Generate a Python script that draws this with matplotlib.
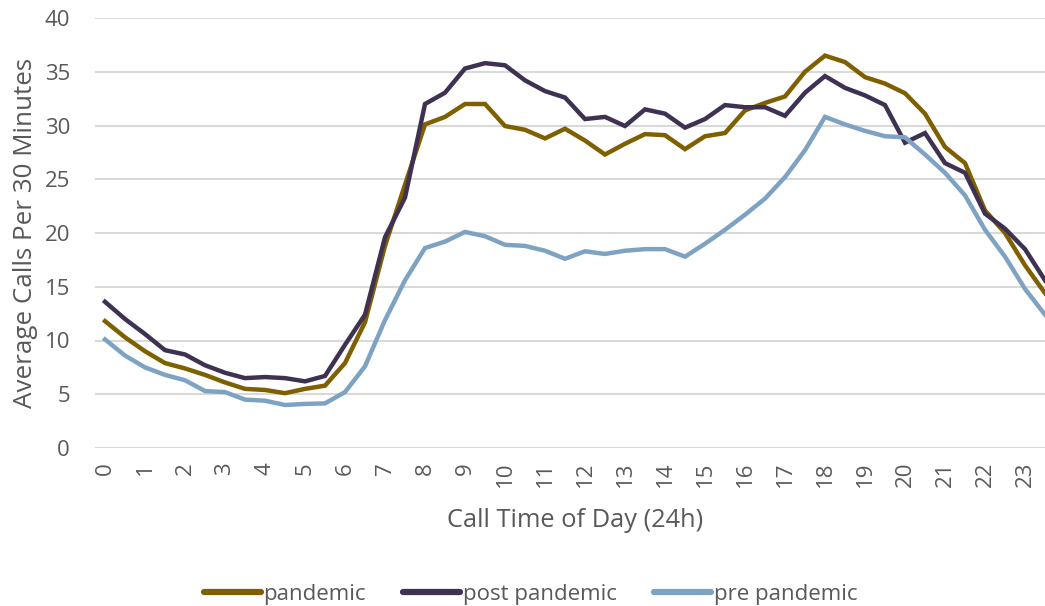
import numpy as np
import matplotlib
matplotlib.use("Agg")
import matplotlib.pyplot as plt

plt.rcParams['font.family'] = ['Open Sans', 'DejaVu Sans']

# half-hour slots through the day
hours = np.arange(0, 24, 0.5)

pandemic = [11.8, 10.3, 9.0, 7.9, 7.4, 6.8, 6.1, 5.5, 5.4, 5.1, 5.5, 5.8,
            7.9, 11.7, 18.8, 24.5, 30.1, 30.8, 32.0, 32.0, 29.95, 29.6, 28.8, 29.7,
            28.6, 27.3, 28.3, 29.2, 29.1, 27.8, 29.0, 29.3, 31.4, 32.1, 32.7, 35.0,
            36.5, 35.9, 34.5, 33.9, 33.0, 31.1, 28.0, 26.5, 22.1, 20.0, 17.0, 14.4]

post_pandemic = [13.6, 12.0, 10.6, 9.1, 8.7, 7.7, 7.0, 6.5, 6.6, 6.5, 6.2, 6.7,
                 9.6, 12.4, 19.6, 23.3, 32.0, 33.05, 35.3, 35.8, 35.6, 34.2, 33.2, 32.6,
                 30.6, 30.8, 29.95, 31.5, 31.1, 29.8, 30.6, 31.9, 31.7, 31.7, 30.9, 33.05,
                 34.6, 33.5, 32.8, 31.9, 28.4, 29.3, 26.5, 25.6, 21.8, 20.4, 18.5, 15.6]

pre_pandemic = [10.1, 8.6, 7.5, 6.8, 6.3, 5.3, 5.2, 4.5, 4.4, 4.0, 4.1, 4.15,
                5.2, 7.6, 11.9, 15.6, 18.6, 19.2, 20.1, 19.7, 18.9, 18.8, 18.35, 17.6,
                18.3, 18.05, 18.35, 18.5, 18.5, 17.8, 19.0, 20.3, 21.7, 23.2, 25.2, 27.7,
                30.8, 30.1, 29.5, 29.0, 28.9, 27.3, 25.6, 23.5, 20.3, 17.8, 14.8, 12.4]

series = [("pandemic", pandemic, "#7f6000"),
          ("post pandemic", post_pandemic, "#3f3152"),
          ("pre pandemic", pre_pandemic, "#7ea3c2")]

text_col = "#595959"

fig = plt.figure(figsize=(10.45, 6.06), dpi=100)
ax = fig.add_axes([95 / 1045, 1 - 448 / 606, 950 / 1045, 430 / 606])

for name, vals, col in series:
    ax.plot(hours, vals, color=col, lw=3.2, label=name, solid_joinstyle="miter")

ax.set_xlim(-0.25, 23.5)
ax.set_ylim(0, 40)
ax.set_yticks(range(0, 41, 5))
ax.set_xticks(range(24))
ax.set_xticklabels([str(h) for h in range(24)], rotation=90)
ax.tick_params(axis="both", length=0, colors=text_col, labelsize=16)
ax.tick_params(axis="x", pad=10)
ax.tick_params(axis="y", pad=18)
ax.grid(axis="y", color="#d9d9d9", lw=1.5)
ax.set_axisbelow(True)
for s in ax.spines.values():
    s.set_visible(False)

ax.set_xlabel("Call Time of Day (24h)", color=text_col, fontsize=18.3, labelpad=15, x=0.505)
ax.set_ylabel("Average Calls Per 30 Minutes", color=text_col, fontsize=18.7, labelpad=5)

leg = fig.legend(loc="lower center", bbox_to_anchor=(0.5075, -0.013), ncol=3, frameon=False,
                 fontsize=16, handlelength=2.57, handletextpad=0.1, columnspacing=1.7,
                 borderaxespad=0)
for t in leg.get_texts():
    t.set_color(text_col)
for h in leg.legend_handles:
    h.set_linewidth(4.5)
    h.set_solid_capstyle("round")

fig.savefig("out.png", dpi=100)
